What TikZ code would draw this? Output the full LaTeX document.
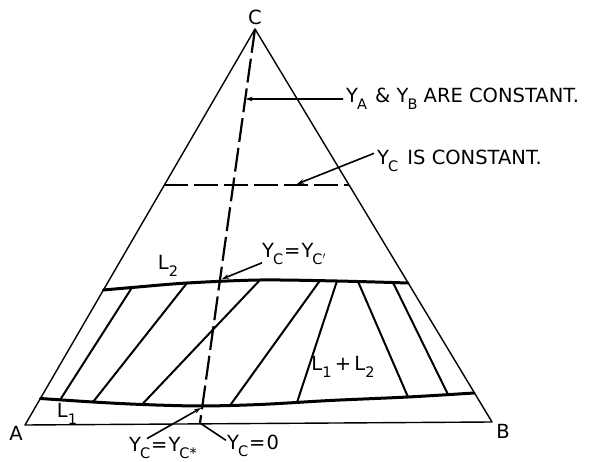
\documentclass[tikz,border=0pt]{standalone}
\usepackage{fontspec}
\setmainfont{DejaVu Sans}
\usetikzlibrary{arrows.meta,calc}

\newcommand{\ysub}[1]{Y\kern-1pt\raisebox{-0.6ex}{\fontsize{14.5}{14.5}\selectfont #1}}
\newcommand{\lsub}[1]{L\raisebox{-0.6ex}{\fontsize{14.5}{14.5}\selectfont #1}}

\begin{document}
\begin{tikzpicture}[x=1pt,y=-1pt,>=Stealth,font=\fontsize{19.5}{22}\selectfont,
 edge/.style={line width=1.4pt,line join=round},
 phase/.style={line width=3pt,line cap=round},
 tie/.style={line width=2pt},
 dashline/.style={line width=2.2pt,dash pattern=on 24pt off 6pt},
 leader/.style={line width=1.6pt,-{Stealth[length=7pt,width=4.5pt]}},
 lab/.style={inner sep=1pt}]
\useasboundingbox (0,0) rectangle (590,462);

% vertices
\coordinate (A) at (25,425);
\coordinate (B) at (492,422);
\coordinate (C) at (255,29);
\coordinate (P) at (200,423);
\node[lab] (labC) at (255,17) {C};
\node[lab] (labA) at (16,433) {A};
\node[lab] (labB) at (503,431) {B};
\draw[edge] (A) -- (C) -- (B) -- cycle;

% line of constant Y_A, Y_B
\draw[dashline] (C) -- (P);

% line of constant Y_C
\draw[dashline] (164,185) -- (349,185);

% binodal curves
\draw[phase] plot[smooth] coordinates {(103.4,290) (132,287.5) (187,283) (260,280) (337,281) (408.2,283)};
\draw[phase] plot[smooth] coordinates {(40.4,398.5) (93,402) (142,404.5) (200,406) (260,404.5) (330,400.5) (408,397) (474,393)};

% tie lines
\foreach \xa/\ya/\xb/\yb in {60/400/132/287.5, 93/402/187/283, 142/404.5/260/280, 230/405.5/320/280.5,
 297/402.5/337/281, 408/397/358/281.5, 448/394.5/393/282.5}
 {\draw[tie] (\xa,\ya) -- (\xb,\yb);}

% labels
\node[lab,anchor=base west] (yab) at (345,103) {\ysub{A}\ \kern2pt\& \ysub{B}\ ARE CONSTANT.};
\node[lab,anchor=base west] (ycc) at (376,165) {\ysub{C}\ \kern3pt IS CONSTANT.};
\node[lab,anchor=base west] (ycp) at (261,258) {\ysub{C}\kern1pt=\kern1pt\ysub{C$'$}};
\node[lab,anchor=base west] (ycs) at (128,452) {\ysub{C}\kern1pt=\kern1pt\ysub{C*}};
\node[lab,anchor=base west] (yc0) at (226,450) {\ysub{C}\kern1pt=\kern1pt0};
\node[lab] (ltwo) at (168,266) {\lsub{2}};
\node[lab] (lone) at (67,414) {\lsub{1}};
\node[lab] (lmix) at (343,367) {\lsub{1}\,+\,\lsub{2}};

% leaders
\draw[leader] ($(yab.west)+(-2,0)$) -- (245.5,99);
\draw[leader] ($(ycc.north west)+(-2,4)$) -- (297,184);
\draw[leader] ($(ycp.south west)+(1,-3)$) -- (222,279);
\draw[leader] ($(ycs.north west)+(19,2)$) -- (201,408);
\draw[line width=1.6pt] (P) -- ($(yc0.north west)+(0,6)$);
\end{tikzpicture}
\end{document}
